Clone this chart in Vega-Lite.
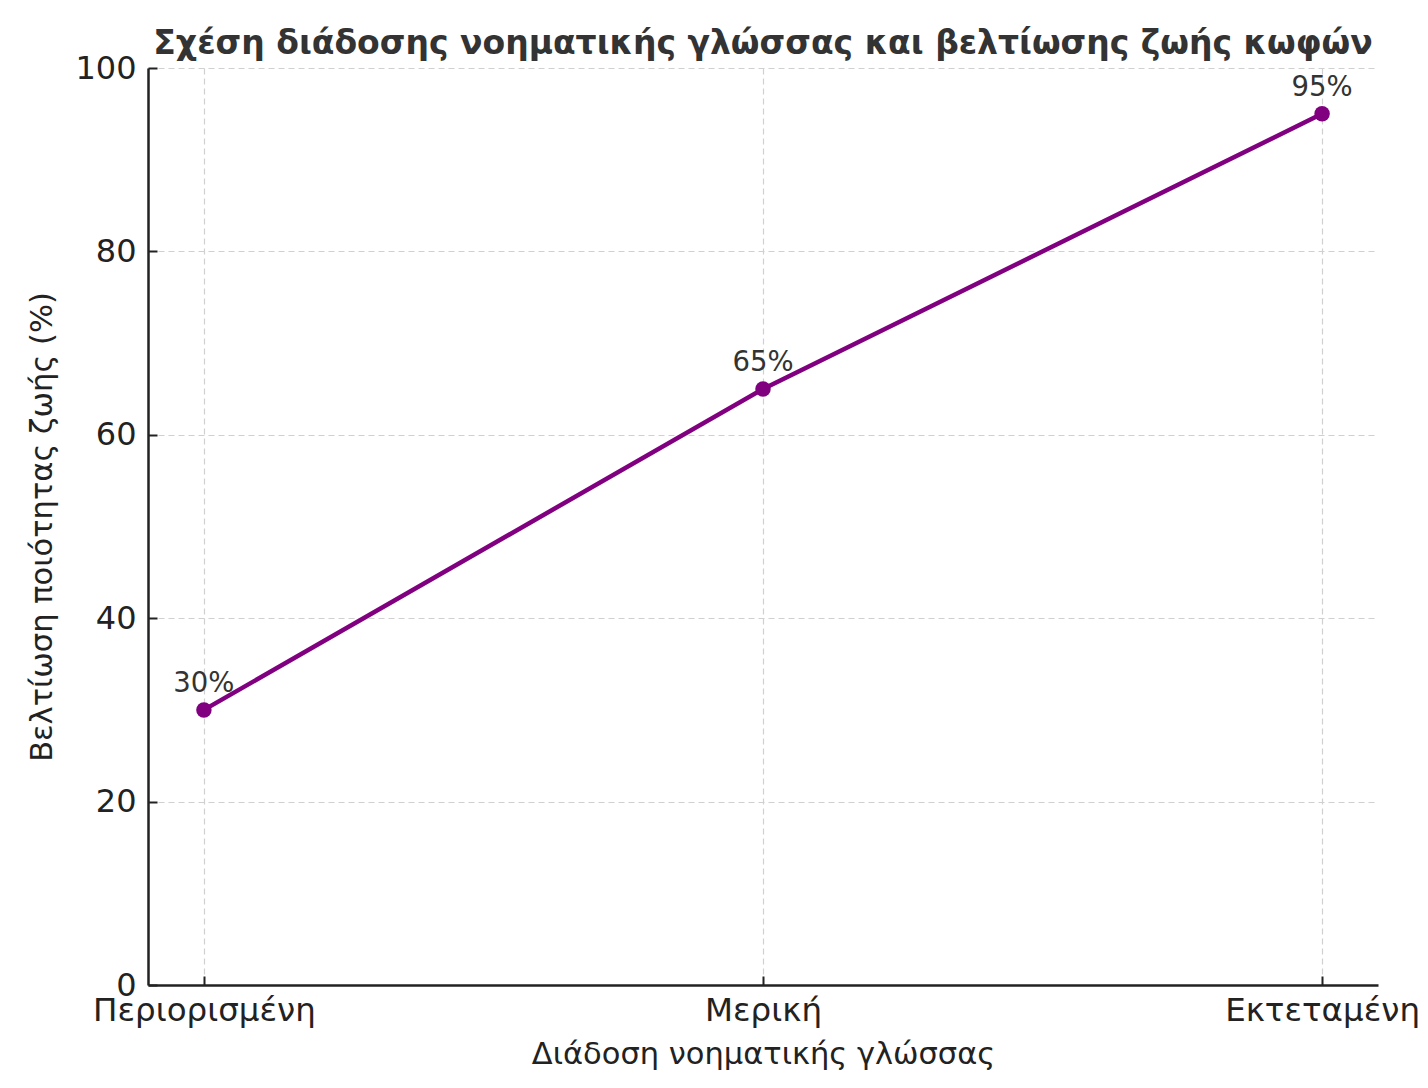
{
  "$schema": "https://vega.github.io/schema/vega-lite/v6.json",
  "width": 1230,
  "height": 917,
  "autosize": {"type": "none"},
  "padding": {"left": 148, "top": 68, "right": 50, "bottom": 103},
  "background": "white",
  "config": {
    "view": {"stroke": null},
    "font": "DejaVu Sans"
  },
  "title": {
    "text": "Σχέση διάδοσης νοηματικής γλώσσας και βελτίωσης ζωής κωφών",
    "font": "DejaVu Sans",
    "fontSize": 33,
    "fontWeight": "bold",
    "color": "#333333",
    "offset": -9,
    "anchor": "middle"
  },
  "data": {
    "values": [
      {"spread": "Περιορισμένη", "improvement": 30, "label": "30%"},
      {"spread": "Μερική", "improvement": 65, "label": "65%"},
      {"spread": "Εκτεταμένη", "improvement": 95, "label": "95%"}
    ]
  },
  "encoding": {
    "x": {
      "field": "spread",
      "type": "nominal",
      "sort": null,
      "scale": {"type": "point", "padding": 0.1},
      "axis": {
        "title": "Διάδοση νοηματικής γλώσσας",
        "titleFont": "DejaVu Sans",
        "titleFontSize": 30.5,
        "titleFontWeight": "normal",
        "titleColor": "#222222",
        "titlePadding": 13,
        "labelFont": "DejaVu Sans",
        "labelFontSize": 32.5,
        "labelColor": "#222222",
        "labelAngle": 0,
        "labelPadding": 18,
        "labelLimit": 0,
        "domainColor": "#222222",
        "domainWidth": 2.5,
        "tickColor": "#222222",
        "tickWidth": 2,
        "tickSize": -9,
        "grid": true,
        "gridColor": "#d0d0d0",
        "gridDash": [6, 4],
        "gridWidth": 1.2
      }
    },
    "y": {
      "field": "improvement",
      "type": "quantitative",
      "scale": {"domain": [0, 100], "nice": false},
      "axis": {
        "title": "Βελτίωση ποιότητας ζωής (%)",
        "titleFont": "DejaVu Sans",
        "titleFontSize": 30.5,
        "titleFontWeight": "normal",
        "titleColor": "#222222",
        "titlePadding": 17,
        "labelFont": "DejaVu Sans",
        "labelFontSize": 32,
        "labelColor": "#222222",
        "labelPadding": 21,
        "values": [0, 20, 40, 60, 80, 100],
        "domainColor": "#222222",
        "domainWidth": 2.5,
        "tickColor": "#222222",
        "tickWidth": 2,
        "tickSize": -9,
        "grid": true,
        "gridColor": "#d0d0d0",
        "gridDash": [6, 4],
        "gridWidth": 1.2
      }
    }
  },
  "layer": [
    {
      "mark": {"type": "line", "color": "#800080", "strokeWidth": 4.5},
      "encoding": {}
    },
    {
      "mark": {"type": "point", "filled": true, "color": "#800080", "size": 240, "opacity": 1},
      "encoding": {}
    },
    {
      "mark": {"type": "text", "dy": -26, "fontSize": 27.5, "color": "#333333", "font": "DejaVu Sans"},
      "encoding": {"text": {"field": "label"}}
    }
  ]
}
